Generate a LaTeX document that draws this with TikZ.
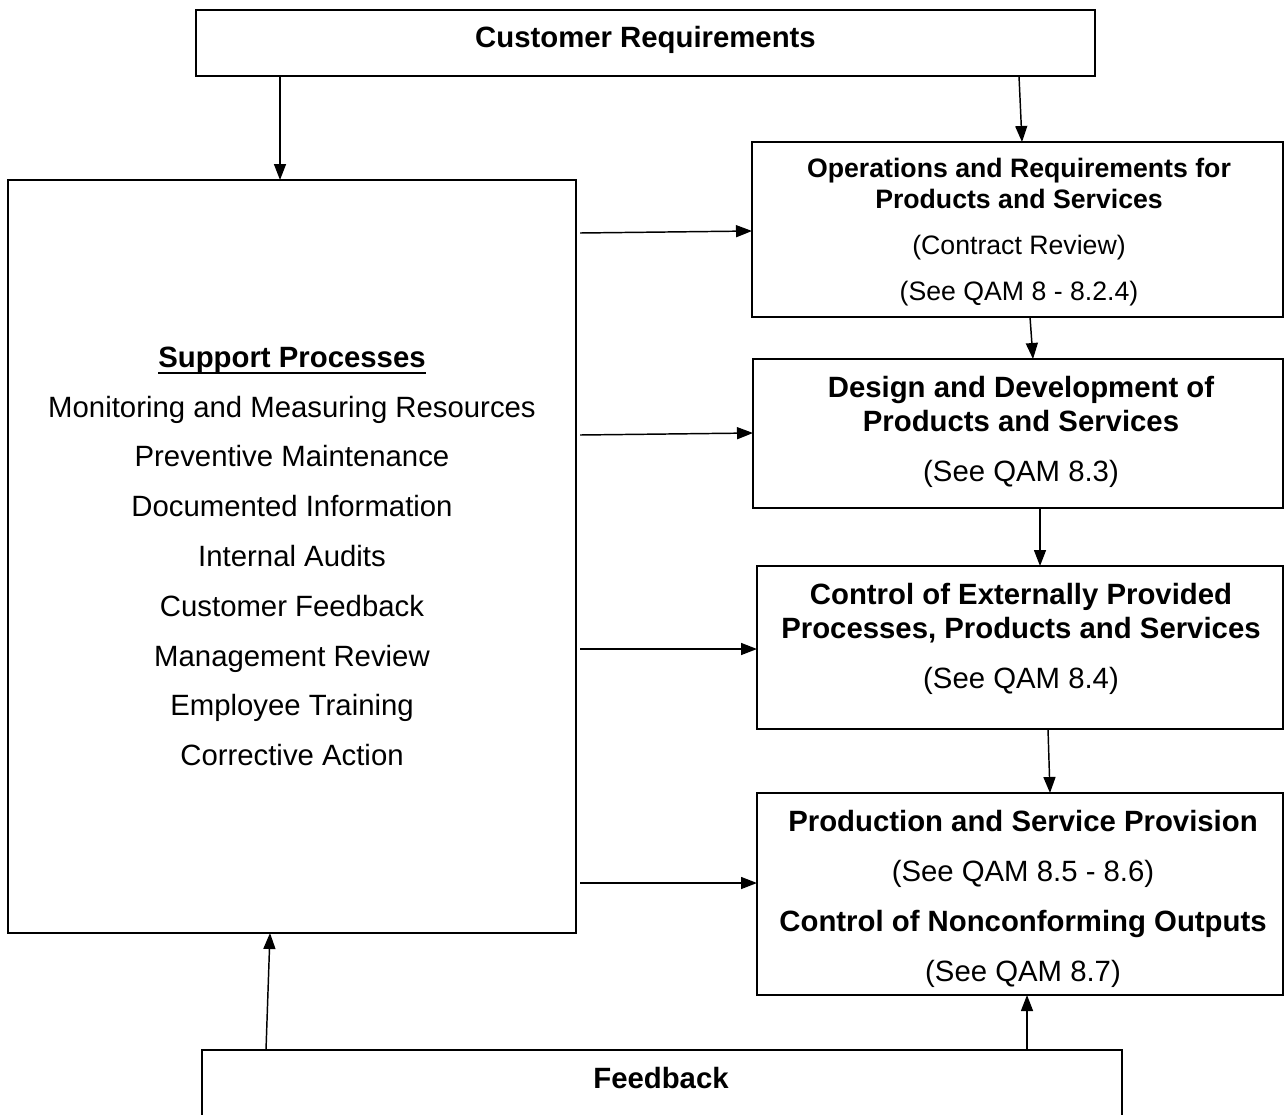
\documentclass[tikz,border=0pt]{standalone}
\usepackage{fontspec}
\setmainfont{Liberation Sans}
\usetikzlibrary{arrows.meta,calc}
\tikzset{
  bx/.style 2 args={draw, line width=1.5pt, rectangle, inner sep=0pt, outer sep=0pt,
    minimum width=#1*0.75pt, minimum height=#2*0.75pt, anchor=north west},
  arr/.style={line width=1.1pt, -{Triangle[length=12pt,width=9pt]}},
  big/.style={anchor=base, inner sep=0pt, font=\fontsize{22}{26}\selectfont},
  bigb/.style={big, font=\fontsize{22}{26}\selectfont\bfseries},
  mid/.style={anchor=base, inner sep=0pt, font=\fontsize{20}{24}\selectfont},
  midb/.style={mid, font=\fontsize{20}{24}\selectfont\bfseries},
}
\begin{document}
\begin{tikzpicture}[x=0.75pt,y=-0.75pt]
\useasboundingbox (0,0) rectangle (1284,1114);
\clip (0,0) rectangle (1284,1114);
\fill[white] (0,0) rectangle (1284,1114);
% boxes
\node[bx={899}{66}]  (cr)  at (196,10) {};
\node[bx={568}{753}] (sup) at (8,180) {};
\node[bx={531}{175}] (ops) at (752,142) {};
\node[bx={530}{149}] (des) at (753,359) {};
\node[bx={526}{163}] (ctl) at (757,566) {};
\node[bx={526}{202}] (prd) at (757,793) {};
\node[bx={920}{110}] (fb)  at (202,1050) {};
% texts
\node[bigb] (crt) at (645.5,47) {Customer Requirements};
\node[midb] (o1) at (1019,177) {Operations and Requirements for};
\node[midb] (o2) at (1019,208) {Products and Services};
\node[mid]  (o3) at (1019,254) {(Contract Review)};
\node[mid]  (o4) at (1019,300) {(See QAM 8 - 8.2.4)};
\node[bigb] (d1) at (1021,397) {Design and Development of};
\node[bigb] (d2) at (1021,431) {Products and Services};
\node[big]  (d3) at (1021,481) {(See QAM 8.3)};
\node[bigb] (c1) at (1021,604) {Control of Externally Provided};
\node[bigb] (c2) at (1021,638) {Processes, Products and Services};
\node[big]  (c3) at (1021,688) {(See QAM 8.4)};
\node[bigb] (p1) at (1023,831) {Production and Service Provision};
\node[big]  (p2) at (1023,881) {(See QAM 8.5 - 8.6)};
\node[bigb] (p3) at (1023,931) {Control of Nonconforming Outputs};
\node[big]  (p4) at (1023,981) {(See QAM 8.7)};
\node[bigb] (s0) at (292,367) {Support Processes};
\draw[line width=2pt] ($(s0.base west)+(0,6)$) -- ($(s0.base east)+(0,6)$);
\node[big] (s1) at (292,417) {Monitoring and Measuring Resources};
\node[big] (s2) at (292,466) {Preventive Maintenance};
\node[big] (s3) at (292,516) {Documented Information};
\node[big] (s4) at (292,566) {Internal Audits};
\node[big] (s5) at (292,616) {Customer Feedback};
\node[big] (s6) at (292,666) {Management Review};
\node[big] (s7) at (292,715) {Employee Training};
\node[big] (s8) at (292,765) {Corrective Action};
\node[bigb] (fbt) at (661,1088) {Feedback};
% arrows
\draw[arr] ($(cr.south west)+(84,0)$) -- ($(sup.north west)+(272,0)$);
\draw[arr] ($(cr.south west)+(823,0)$) -- ($(ops.north west)+(270,0)$);
\draw[arr] ($(sup.north east)+(4,53)$) -- ($(ops.north west)+(0,89)$);
\draw[arr] ($(sup.north east)+(4,255)$) -- ($(des.north west)+(0,74)$);
\draw[arr] ($(sup.north east)+(4,469)$) -- ($(ctl.north west)+(0,83)$);
\draw[arr] ($(sup.north east)+(4,703)$) -- ($(prd.north west)+(0,90)$);
\draw[arr] ($(ops.south west)+(278,0)$) -- ($(des.north west)+(280,0)$);
\draw[arr] ($(des.south west)+(287,0)$) -- ($(ctl.north west)+(283,0)$);
\draw[arr] ($(ctl.south west)+(291,0)$) -- ($(prd.north west)+(293,0)$);
\draw[arr] ($(fb.north west)+(64,0)$) -- ($(sup.south west)+(262,0)$);
\draw[arr] ($(fb.north west)+(825,0)$) -- ($(prd.south west)+(270,0)$);
\end{tikzpicture}
\end{document}
